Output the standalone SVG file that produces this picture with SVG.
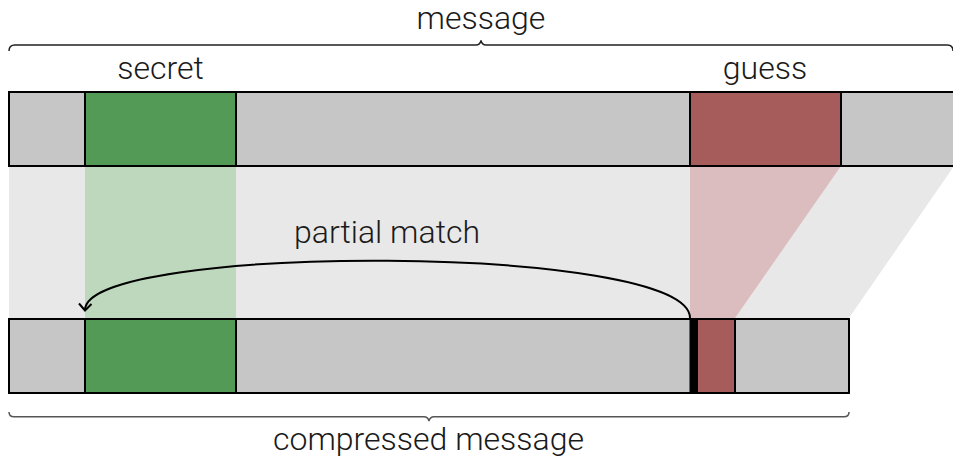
<svg xmlns="http://www.w3.org/2000/svg" width="953" height="459" viewBox="0 0 953 459">
<style>
.lbl{font-family:Roboto,"Liberation Sans",sans-serif;font-weight:300;font-size:32px;fill:#1a1a1a;text-anchor:middle}
.bar{stroke:#000;stroke-width:2}
.g{fill:#c6c6c6}
.gr{fill:#539a56}
.rd{fill:#a65c5b}
.brace{fill:none;stroke-width:1.5}
.conn{fill:none;stroke:#000;stroke-width:2}
</style>
<g id="projections">
<polygon points="9,166 954,166 849,318 9,318" fill="#e8e8e8"/>
<rect x="85" y="166" width="151" height="152" fill="#bdd8bd"/>
<polygon points="690,166 841,166 735,318 690,318" fill="#dcbdbf"/>
</g>
<g id="message-bar">
<rect class="bar g" x="9" y="92" width="960" height="74"/>
<rect class="bar gr" x="85" y="92" width="151" height="74"/>
<rect class="bar rd" x="690" y="92" width="151" height="74"/>
</g>
<g id="compressed-bar">
<rect class="bar g" x="9" y="319" width="840" height="74"/>
<rect class="bar gr" x="85" y="319" width="151" height="74"/>
<rect class="bar rd" x="697" y="319" width="38" height="74"/>
<rect x="689.5" y="318" width="8.5" height="76" fill="#000"/>
</g>
<g id="connectors">
<path class="conn" d="M690,318 C690,243 85,243 85,310"/>
<path class="conn" d="M79,303.5 L85,310.5 L91.5,304"/>
</g>
<g id="braces">
<path class="brace" stroke="#222" d="M9,51 Q9,45 15,45 L476,45 Q480,45 481,40.5 Q482,45 486,45 L947,45 Q953,45 953,51"/>
<path class="brace" stroke="#555" d="M9,412 Q9,416.8 14,416.8 L424,416.8 Q428,416.8 429,421 Q430,416.8 434,416.8 L844,416.8 Q849,416.8 849,412"/>
</g>
<g id="labels">
<text class="lbl" x="481" y="29">message</text>
<text class="lbl" x="160.5" y="78.5">secret</text>
<text class="lbl" x="765" y="78.5">guess</text>
<text class="lbl" x="387" y="242.5">partial match</text>
<text class="lbl" x="428.5" y="450">compressed message</text>
</g>
</svg>
